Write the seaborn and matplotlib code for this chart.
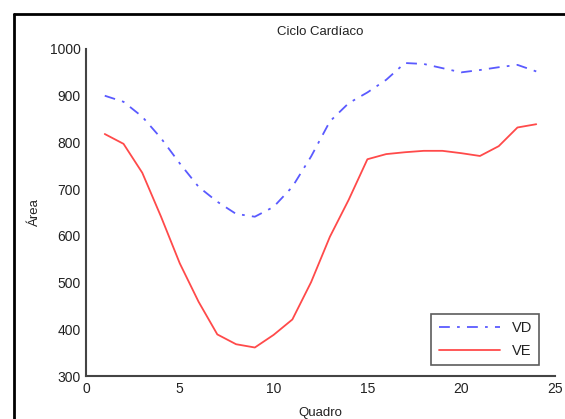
import matplotlib
matplotlib.use('Agg')
import matplotlib.pyplot as plt
from matplotlib.lines import Line2D
import pandas as pd
import seaborn as sns

# dados
quadros = list(range(1, 25))
vd = [900, 887, 855, 809, 755, 705, 673, 647, 641, 662, 705, 770,
      845, 884, 907, 934, 970, 968, 959, 950, 955, 961, 966, 952]
ve = [818, 797, 735, 641, 541, 459, 389, 368, 361, 388, 421, 501,
      598, 677, 764, 775, 779, 782, 782, 777, 771, 792, 832, 839]
xticks = [0, 5, 10, 15, 20, 25]
yticks = [300, 400, 500, 600, 700, 800, 900, 1000]

sns.set_style('white')
plt.rcParams['font.family'] = ['Liberation Sans', 'DejaVu Sans']
text_color = '#222222'
spine_color = '#444444'

df = pd.DataFrame({'Quadro': quadros * 2,
                   'Área': vd + ve,
                   'serie': ['VD'] * len(vd) + ['VE'] * len(ve)})

fig = plt.figure(figsize=(5.65, 4.19), dpi=100)
ax = fig.add_axes([86 / 565, 1 - 376 / 419, (555 - 86) / 565, (376 - 49) / 419])

sns.lineplot(data=df[df['serie'] == 'VD'], x='Quadro', y='Área', color='#5a5aff',
             linewidth=1.3, ax=ax, label='VD')
sns.lineplot(data=df[df['serie'] == 'VE'], x='Quadro', y='Área', color='#ff4a4a',
             linewidth=1.3, ax=ax, label='VE')
ax.lines[0].set_dashes((6, 4, 1.5, 4))

ax.set_xlim(0, 25)
ax.set_ylim(300, 1000)
ax.set_xticks(xticks)
ax.set_yticks(yticks)
ax.tick_params(direction='in', length=4, width=1, colors=spine_color,
               labelcolor=text_color, labelsize=10, pad=4)
for side in ['top', 'right']:
    ax.spines[side].set_visible(False)
for side in ['left', 'bottom']:
    ax.spines[side].set_color(spine_color)
    ax.spines[side].set_linewidth(1.5)

ax.set_title('Ciclo Cardíaco', fontsize=9.5, color=text_color, pad=10)
ax.set_xlabel('Quadro', fontsize=9.5, color=text_color, labelpad=8)
ax.set_ylabel('Área', fontsize=9.5, color=text_color, labelpad=6)

leg = ax.legend(loc='lower right', fontsize=10.5, frameon=True, fancybox=False,
                handlelength=4.2, borderaxespad=0.3, labelspacing=0.6,
                borderpad=0.5, bbox_to_anchor=(0.976, 0.02))
leg.get_frame().set_edgecolor('#333333')
leg.get_frame().set_linewidth(1.2)
for t in leg.get_texts():
    t.set_color(text_color)

# moldura da captura (esquerda e topo)
fig.add_artist(Line2D([14 / 565, 14 / 565], [0, 1 - 14 / 419], color='black',
                      linewidth=2, transform=fig.transFigure))
fig.add_artist(Line2D([14 / 565, 1], [1 - 14 / 419, 1 - 14 / 419], color='black',
                      linewidth=2, transform=fig.transFigure))

fig.savefig('out.png', dpi=100)
